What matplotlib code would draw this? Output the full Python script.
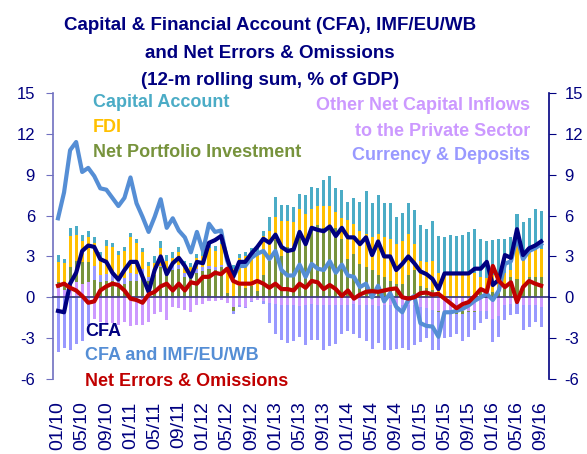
import matplotlib
matplotlib.use('Agg')
import matplotlib.pyplot as plt
import numpy as np

plt.rcParams['font.family'] = ['Liberation Sans', 'DejaVu Sans']
plt.rcParams['axes.unicode_minus'] = False

# monthly data, 01/2010 .. 09/2016 (81 months), % of GDP
tick_labels = ['01/10', '05/10', '09/10', '01/11', '05/11', '09/11', '01/12',
               '05/12', '09/12', '01/13', '05/13', '09/13', '01/14', '05/14',
               '09/14', '01/15', '05/15', '09/15', '01/16', '05/16', '09/16']

cap_account = [0.5, 0.3, 0.6, 0.6, 0.5, 0.5, 0.4, 0.4, 0.4, 0.3, 0.3, 0.3,
               0.3, 0.3, 0.3, 0.3, 0.5, 0.5, 0.4, 0.4, 0.4, 0.4, 0.3, 0.3,
               0.4, 0.3, 0.4, 0.4, 0.3, 0.3, 0.3, 0.3, 0.3, 0.3, 0.4, 1.0,
               1.5, 1.2, 1.2, 1.1, 1.15, 1.4, 1.6, 1.3, 1.9, 2.2, 1.75, 2.05,
               1.35, 1.9, 2.1, 3.15, 2.5, 2.85, 2.5, 2.6, 2.0, 2.1, 2.25, 2.5,
               2.6, 2.4, 2.9, 2.7, 2.6, 2.8, 2.7, 2.8, 3.0, 3.2, 2.8, 2.7,
               2.6, 2.5, 2.5, 2.4, 2.3, 2.4, 2.1, 2.8, 2.75]
fdi = [1.5, 1.4, 2.3, 1.9, 1.5, 1.8, 1.7, 1.3, 2.1, 2.0, 1.7, 2.0,
       2.6, 2.3, 1.2, 0.8, 0.9, 1.3, 0.9, 0.5, 0.9, 0.5, 0.6, 0.8,
       0.8, 1.3, 1.2, 1.5, 1.6, 2.05, 2.1, 2.3, 2.5, 2.9, 2.9, 2.2,
       1.7, 2.6, 1.9, 2.1, 2.0, 2.2, 1.5, 1.4, 1.6, 1.6, 1.15, 1.6,
       2.85, 2.2, 2.45, 2.45, 2.4, 3.05, 2.9, 3.1, 2.9, 3.1, 3.05, 1.9,
       1.85, 1.9, 2.2, 1.8, 1.8, 1.8, 1.8, 1.8, 1.8, 1.8, 1.0, 1.0,
       1.2, 1.2, 1.0, 0.5, 2.45, 2.35, 2.2, 2.2, 2.05]
portfolio = [0.4, 0.6, 1.0, 1.6, 1.6, 1.5, 1.3, 1.1, 1.2, 1.2, 0.9, 1.0,
             1.2, 1.2, 1.7, 1.2, 1.6, 2.2, 1.6, 2.0, 2.1, 1.5, 1.4, 1.8,
             1.9, 2.1, 2.0, 2.2, 0.3, -0.3, 0.8, 0.7, 0.8, 0.45, 1.6, 2.7,
             4.2, 3.0, 3.7, 3.4, 4.45, 3.9, 5.0, 5.3, 5.1, 5.1, 5.1, 4.25,
             2.8, 3.2, 2.45, 2.2, 2.0, 1.6, 1.5, 1.2, 1.0, 1.0, 1.6, 2.0,
             0.85, 0.7, 0.5, -0.1, -0.1, -0.1, -0.2, -0.2, -0.1, -0.1, 0.5, 0.4,
             0.4, 0.6, 0.8, 1.5, 1.35, 0.75, 1.5, 1.5, 1.5]
other_net = [0.7, 0.5, 1.2, 1.1, 1.0, 1.1, -1.6, -1.8, -2.0, -1.9, -2.0, -1.8,
             -2.1, -2.0, -2.0, -1.8, -1.2, -1.1, -1.7, -0.7, -0.8, -0.9, -1.1, -0.6,
             -0.5, -0.3, -0.3, -0.2, -0.4, -0.7, -0.6, -0.7, -0.3, -0.2, -0.3, -0.4,
             -0.5, -0.6, -0.55, -0.6, -0.65, -0.6, -0.5, -0.6, -0.6, -0.55, -0.6, -0.6,
             -0.6, -0.5, -0.6, -0.6, -0.6, -0.65, -0.6, -0.6, -0.6, -0.6, -0.6, -0.6,
             -0.7, -0.8, -0.9, -1.0, -1.0, -1.0, -1.0, -1.0, -1.0, -1.0, -1.0, -1.0,
             -1.6, -1.4, -0.6, -0.5, -0.4, -0.6, -0.6, -0.6, -0.7]
currency_dep = [-4.0, -3.7, -3.9, -3.4, -3.2, -2.0, 1.0, 0.5, 0.5, 0.5, 0.5, 0.4,
                0.6, 0.5, 0.4, 0.3, 0.0, 0.1, 0.2, 0.4, 0.3, 0.3, 0.2, 0.3,
                0.3, 0.2, 0.2, 0.2, 0.0, -0.2, -0.1, -0.05, -0.05, 0.0, -0.2, -1.5,
                -2.2, -2.5, -2.8, -2.6, -2.3, -2.9, -2.6, -2.5, -3.3, -3.0, -2.8, -2.1,
                -1.9, -2.2, -2.4, -2.6, -3.2, -2.7, -3.3, -3.3, -3.2, -3.1, -3.3, -2.9,
                -2.6, -2.2, -3.0, -2.8, -1.9, -1.8, -1.5, -2.0, -1.8, -1.3, -0.9, -0.6,
                -1.7, -1.5, -1.1, -0.8, -0.8, -1.8, -1.6, -1.2, -1.5]

cfa = [-1.0, -1.1, 1.0, 1.8, 3.4, 3.8, 3.7, 2.8, 2.6, 1.8, 1.3, 2.0,
       2.6, 2.6, 1.5, 0.4, 2.0, 3.0, 1.7, 2.5, 2.9, 2.3, 1.5, 2.6,
       2.5, 4.0, 4.2, 4.5, 2.9, 1.5, 2.6, 2.6, 3.2, 3.7, 4.3, 4.0,
       4.6, 3.7, 3.4, 3.5, 4.8, 3.9, 5.1, 4.95, 4.85, 5.2, 4.5, 5.1,
       4.4, 4.4, 3.9, 4.4, 3.1, 4.1, 3.0, 3.0, 2.0, 2.45, 3.0, 2.5,
       1.9, 1.7, 1.35, 0.6, 1.75, 1.75, 1.75, 1.75, 1.75, 2.1, 2.1, 2.6,
       0.9, 1.3, 3.1, 2.9, 5.0, 3.1, 3.6, 3.8, 4.1]
cfa_imf = [5.8, 7.7, 10.8, 11.4, 9.2, 9.5, 8.9, 8.0, 7.9, 7.3, 6.7, 7.3,
           8.8, 6.9, 5.9, 4.8, 5.9, 7.2, 5.1, 5.8, 4.9, 4.4, 3.3, 4.8,
           3.4, 5.4, 4.8, 4.9, 2.7, 1.5, 2.3, 2.3, 2.9, 3.2, 3.4, 2.8,
           3.4, 2.0, 1.6, 1.6, 2.4, 1.5, 2.45, 2.1, 2.0, 2.65, 1.8, 2.4,
           1.6, 1.5, 0.75, 1.0, 0.0, 0.85, -0.3, 0.3, -0.7, -1.1, -0.2, 0.1,
           -1.9, -2.1, -2.15, -2.9, -1.1, -1.1, -1.0, -0.85, -0.6, -0.25, 0.0, 0.25,
           -0.2, 0.5, 2.45, 2.65, 4.4, 2.8, 3.4, 3.6, 3.9]
neo = [0.85, 1.0, 0.7, 0.5, 0.1, -0.4, -0.3, 0.5, 0.8, 1.0, 0.9, 0.5,
       -0.1, -0.2, -0.4, 0.2, 0.4, 0.8, 1.0, 0.5, 1.0, 0.5, 1.1, 1.0,
       1.5, 1.5, 1.8, 1.7, 2.1, 1.2, 1.0, 1.0, 1.0, 1.2, 1.0, 0.7,
       1.0, 0.6, 0.6, 0.5, 1.0, 0.7, 1.2, 1.1, 0.6, 0.9, 0.6, 0.1,
       0.5, -0.1, 0.2, 0.4, 0.45, 0.4, 0.5, 0.6, 0.65, 0.0, -0.1, 0.0,
       0.3, 0.35, 0.2, 0.25, -0.1, -0.45, -0.8, -0.5, -0.35, 0.1, 0.6, 0.4,
       2.3, 1.2, 0.75, 1.1, -0.35, 0.75, 1.2, 1.0, 0.85]

navy = '#000080'
x = np.arange(len(cfa))

fig = plt.figure(figsize=(5.87, 4.54), dpi=100)
ax = fig.add_axes([53/587, 75/454, 496/587, 286/454])

# stacked bars, positives up and negatives down
stack = [(other_net, '#CC99FF'), (portfolio, '#77933C'), (currency_dep, '#9999FF'),
         (fdi, '#FFC000'), (cap_account, '#4BACC6')]
pos = np.zeros(len(x))
neg = np.zeros(len(x))
for vals, col in stack:
    v = np.array(vals)
    base = np.where(v >= 0, pos, neg)
    ax.bar(x, v, width=0.5, bottom=base, color=col, linewidth=0, zorder=2)
    pos = pos + np.clip(v, 0, None)
    neg = neg + np.clip(v, None, 0)

ax.plot(x, cfa_imf, color='#558ED5', lw=3, zorder=3, solid_joinstyle='round')
ax.plot(x, cfa, color=navy, lw=3, zorder=4, solid_joinstyle='round')
ax.plot(x, neo, color='#C00000', lw=3, zorder=5, solid_joinstyle='round')

ax.set_xlim(-0.83, 81.3)
ax.set_ylim(-6, 15)
ax.set_yticks(np.arange(-6, 16, 3))

for s in ['top', 'right']:
    ax.spines[s].set_visible(False)
ax.spines['left'].set_color('#7070C0')
ax.spines['left'].set_linewidth(1.2)
ax.spines['bottom'].set_position(('data', 0))
ax.spines['bottom'].set_color('#404080')
ax.spines['bottom'].set_linewidth(1.3)
ax.spines['bottom'].set_zorder(2.5)

ticks = x[::4]
ax.set_xticks(ticks)
ax.tick_params(axis='x', direction='in', length=4, color=navy, labelbottom=False)
ax.tick_params(axis='y', direction='out', length=5, color='#7070C0',
               labelcolor=navy, labelsize=12, pad=8)

sec = ax.secondary_xaxis('bottom')
sec.set_xticks(ticks, tick_labels, rotation=90)
sec.tick_params(length=0, labelcolor=navy, labelsize=14, pad=16)
sec.spines['bottom'].set_visible(False)

ax2 = ax.twinx()
ax2.set_ylim(-6, 15)
ax2.set_yticks(np.arange(-6, 16, 3))
for s in ['top', 'left', 'bottom']:
    ax2.spines[s].set_visible(False)
ax2.spines['right'].set_color(navy)
ax2.spines['right'].set_linewidth(1.2)
ax2.tick_params(axis='y', direction='out', length=5, color=navy,
                labelcolor=navy, labelsize=12, pad=6)

# title
title_lines = ['Capital & Financial Account (CFA), IMF/EU/WB',
               'and Net Errors & Omissions',
               '(12-m rolling sum, % of GDP)']
for line, py in zip(title_lines, [30, 58, 85]):
    fig.text(270/587, 1 - py/454, line, ha='center', va='baseline',
             color=navy, fontsize=13.5, fontweight='bold')

# legend as coloured text
def label(px, py, txt, col, ha='left'):
    ax.text((px - 53)/496, (379 - py)/286, txt, transform=ax.transAxes,
            ha=ha, va='center', color=col, fontsize=13, fontweight='bold', zorder=6)

label(93, 103, 'Capital Account', '#4BACC6')
label(93, 128, 'FDI', '#FFC000')
label(93, 153, 'Net Portfolio Investment', '#77933C')
label(530, 106, 'Other Net Capital Inflows', '#CC99FF', 'right')
label(530, 131, 'to the Private Sector', '#CC99FF', 'right')
label(530, 156, 'Currency & Deposits', '#9999FF', 'right')
label(85, 331, 'CFA', navy)
label(85, 356, 'CFA and IMF/EU/WB', '#558ED5')
label(85, 381, 'Net Errors & Omissions', '#C00000')

fig.savefig('out.png', dpi=100)
